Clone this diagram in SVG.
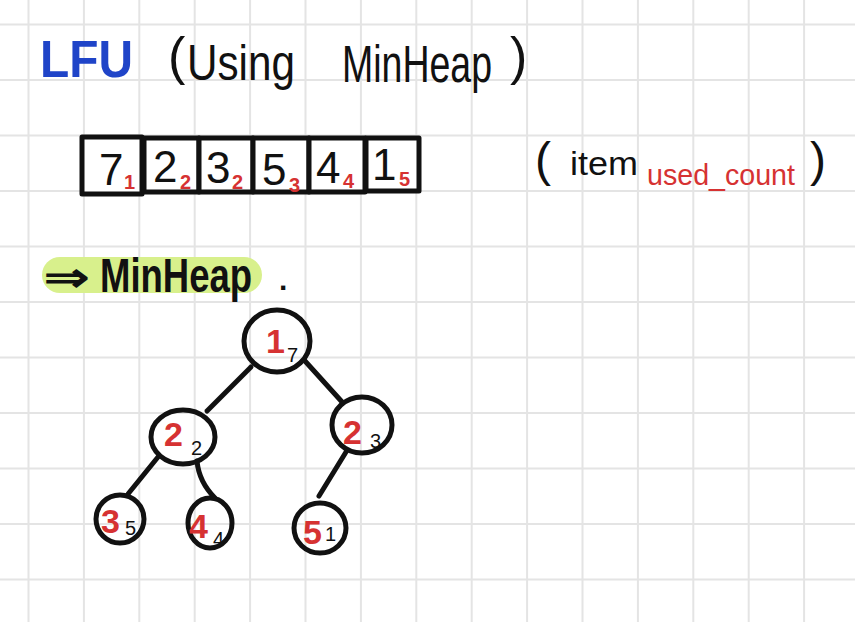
<svg xmlns="http://www.w3.org/2000/svg" width="855" height="622" viewBox="0 0 855 622">
<style>
.grid{stroke:#e4e4e4;stroke-width:2;fill:none}
.ink{font-family:"Liberation Sans",Arial,sans-serif;fill:#111}
.red{font-family:"Liberation Sans",Arial,sans-serif;fill:#d63232}
.blue{font-family:"Liberation Sans",Arial,sans-serif;fill:#1f44c8;font-weight:bold}
.cell{fill:#fff;stroke:#111;stroke-width:5;stroke-linejoin:round}
.node{fill:none;stroke:#111;stroke-width:5}
.edge{stroke:#111;stroke-width:5;stroke-linecap:round;fill:none}
.big{font-size:44px}
.sub{font-size:20px;font-weight:bold}
.tnum{font-size:34px;font-weight:bold}
.tsub{font-size:20px}
</style>
<rect width="855" height="622" fill="#fff"/>
<path class="grid" d="M28.5 0V622M83.9 0V622M139.3 0V622M194.7 0V622M250.1 0V622M305.5 0V622M360.9 0V622M416.3 0V622M471.7 0V622M527.1 0V622M582.5 0V622M637.9 0V622M693.3 0V622M748.7 0V622M804.1 0V622M0 24.5H855M0 80H855M0 135.5H855M0 191H855M0 246.5H855M0 302H855M0 357.5H855M0 413H855M0 468.5H855M0 524H855M0 579.5H855"/>

<g id="title">
<text class="blue" x="40" y="77" font-size="52" textLength="93" lengthAdjust="spacingAndGlyphs">LFU</text>
<text class="ink" x="168" y="74" font-size="52">(</text>
<text class="ink" x="187" y="80" font-size="50" textLength="108" lengthAdjust="spacingAndGlyphs">Using</text>
<text class="ink" transform="translate(342,82) scale(1,1.39)" font-size="37.5">MinHeap</text>
<text class="ink" x="510" y="74" font-size="52">)</text>
</g>

<g id="array">
<g id="cell-7"><rect class="cell" x="82" y="137" width="60" height="57"/><text class="ink big" x="99" y="185">7</text><text class="red sub" x="124" y="189">1</text></g>
<g id="cell-2"><rect class="cell" x="144" y="138" width="55" height="54"/><text class="ink big" x="153" y="182">2</text><text class="red sub" x="180" y="189">2</text></g>
<g id="cell-3"><rect class="cell" x="199" y="138" width="54" height="54"/><text class="ink big" x="206" y="183">3</text><text class="red sub" x="232" y="189">2</text></g>
<g id="cell-5"><rect class="cell" x="253" y="138" width="56" height="54"/><text class="ink big" x="262" y="185">5</text><text class="red sub" x="289" y="192">3</text></g>
<g id="cell-4"><rect class="cell" x="309" y="138" width="56" height="54"/><text class="ink big" x="316" y="183">4</text><text class="red sub" x="343" y="188">4</text></g>
<g id="cell-1"><rect class="cell" x="366" y="138" width="53" height="53"/><text class="ink big" x="372" y="180">1</text><text class="red sub" x="399" y="186">5</text></g>
</g>

<g id="legend">
<text class="ink" x="535" y="176" font-size="48">(</text>
<text class="ink" x="570" y="175" font-size="34" textLength="68" lengthAdjust="spacingAndGlyphs">item</text>
<text class="red" x="647" y="185" font-size="30" textLength="148" lengthAdjust="spacingAndGlyphs">used_count</text>
<text class="ink" x="810" y="176" font-size="48">)</text>
</g>

<g id="heading">
<rect x="42" y="257" width="220" height="36" rx="18" fill="#d8f08c"/>
<text class="ink" x="44" y="291" font-size="40" font-weight="bold" textLength="46" lengthAdjust="spacingAndGlyphs" font-family="DejaVu Sans, sans-serif">⇒</text>
<text class="ink" transform="translate(100,292) scale(1,1.31)" font-size="36.5" font-weight="bold">MinHeap</text>
<text class="ink" x="279" y="290" font-size="30" font-weight="bold">.</text>
</g>

<g id="connectors">
<line class="edge" x1="251" y1="367" x2="207" y2="411"/>
<line class="edge" x1="305" y1="361" x2="343" y2="403"/>
<line class="edge" x1="158" y1="457" x2="128" y2="494"/>
<path class="edge" d="M197 461Q199 482 215 498"/>
<line class="edge" x1="346" y1="452" x2="319" y2="496"/>
</g>

<g id="node-root"><ellipse class="node" cx="277" cy="341" rx="33" ry="31"/><text class="red tnum" x="266" y="353">1</text><text class="ink tsub" x="287" y="362">7</text></g>
<g id="node-left"><ellipse class="node" cx="183" cy="437" rx="32" ry="27"/><text class="red tnum" x="164" y="446">2</text><text class="ink tsub" x="191" y="455">2</text></g>
<g id="node-right"><ellipse class="node" cx="362" cy="425" rx="30" ry="28"/><text class="red tnum" x="343" y="444">2</text><text class="ink tsub" x="370" y="448">3</text></g>
<g id="node-5-3"><ellipse class="node" cx="120" cy="519" rx="24" ry="24"/><text class="red tnum" x="101" y="533">3</text><text class="ink tsub" x="125" y="535">5</text></g>
<g id="node-4-4"><ellipse class="node" cx="210" cy="523" rx="22" ry="25"/><text class="red tnum" x="189" y="538">4</text><text class="ink tsub" x="213" y="546">4</text></g>
<g id="node-1-5"><ellipse class="node" cx="320" cy="528" rx="26" ry="25"/><text class="red tnum" x="303" y="544">5</text><text class="ink tsub" x="325" y="541">1</text></g>
</svg>
